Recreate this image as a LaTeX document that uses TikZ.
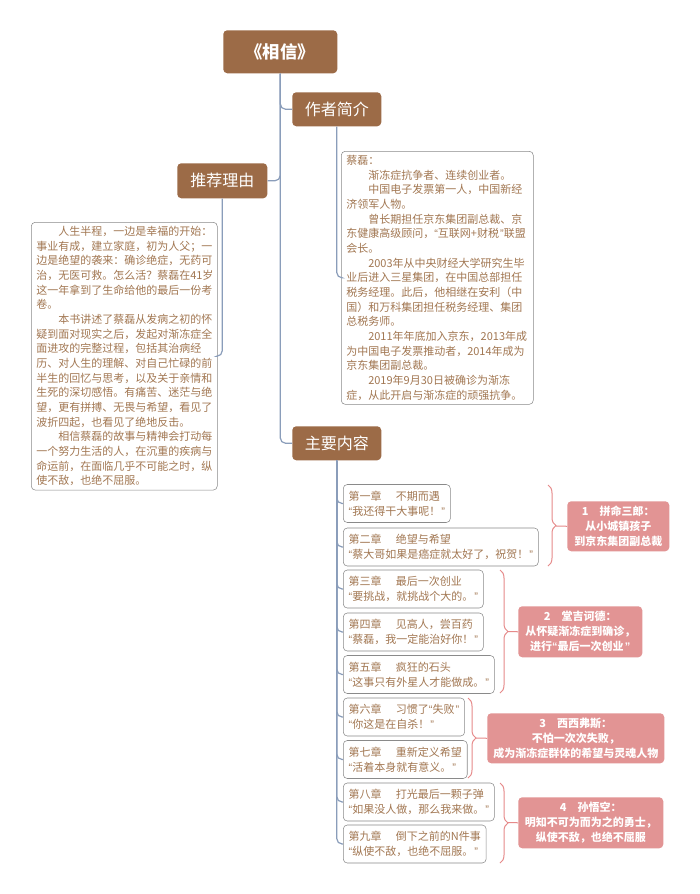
\documentclass[tikz,border=0pt]{standalone}
\usepackage{fontspec}
\setmainfont{Noto Sans CJK SC}
\newfontfamily\quofont{Liberation Sans}
\usetikzlibrary{decorations.pathreplacing}
\definecolor{topicbrown}{HTML}{9C6B47}
\definecolor{notebrown}{HTML}{A27752}
\definecolor{linkblue}{HTML}{8A9DBA}
\definecolor{notegray}{HTML}{8A8A8A}
\definecolor{sumpink}{HTML}{E29494}
\definecolor{bracepink}{HTML}{E68A8A}
\tikzset{
  topic/.style={fill=topicbrown, text=white, rounded corners=3pt, inner sep=0pt},
  note/.style={draw=notegray, rounded corners=3pt, text=notebrown, align=left,
    inner xsep=3.75pt, inner ysep=3pt, font=\fontsize{8.25}{11}\selectfont},
  chap/.style={note, anchor=west, inner xsep=4pt, inner ysep=2pt, minimum height=28.5pt,
    font=\fontsize{8.25}{11.25}\selectfont},
  summary/.style={fill=sumpink, text=white, rounded corners=3pt, inner sep=0pt,
    anchor=north west, align=center, font=\bfseries\fontsize{8.25}{11.25}\selectfont},
  link/.style={draw=linkblue, line width=0.9pt, rounded corners=4pt},
  bracket/.style={draw=bracepink, line width=0.75pt, decorate,
    decoration={brace, amplitude=6pt, aspect=0.5}},
  tick/.style={draw=bracepink, line width=0.75pt}
}
\newcommand{\ind}{\hspace*{2em}}
\newcommand{\gap}{\hspace{1.3em}}
\newcommand{\lquo}{{\quofont “}}
\newcommand{\rquo}{\hspace{0.1em}{\quofont ”}}

\begin{document}
\begin{tikzpicture}[x=0.75pt, y=-0.75pt]
  \useasboundingbox[fill=white] (0,0) rectangle (700,894);

  % topics
  \node[topic, anchor=north west, minimum width=85.5pt, minimum height=32.25pt,
    font=\bfseries\fontsize{13}{15}\selectfont] (title) at (223,30) {《相信》};
  \node[topic, anchor=north west, minimum width=66.75pt, minimum height=25.5pt,
    font=\fontsize{12}{14}\selectfont] (author) at (292,92) {作者简介};
  \node[topic, anchor=north west, minimum width=67.5pt, minimum height=26.25pt,
    font=\fontsize{12}{14}\selectfont] (reason) at (177,163) {推荐理由};
  \node[topic, anchor=north west, minimum width=66.75pt, minimum height=25.5pt,
    font=\fontsize{12}{14}\selectfont] (content) at (292,426) {主要内容};

  % notes
  \node[note, anchor=north west, text width=132pt] (reasontext) at (31,222) {%
    \ind 人生半程，一边是幸福的开始：\\
    事业有成，建立家庭，初为人父；一\\
    边是绝望的袭来：确诊绝症，无药可\\
    治，无医可救。怎么活？蔡磊在41岁\\
    这一年拿到了生命给他的最后一份考\\
    卷。\\
    \ind 本书讲述了蔡磊从发病之初的怀\\
    疑到面对现实之后，发起对渐冻症全\\
    面进攻的完整过程，包括其治病经\\
    历、对人生的理解、对自己忙碌的前\\
    半生的回忆与思考，以及关于亲情和\\
    生死的深切感悟。有痛苦、迷茫与绝\\
    望，更有拼搏、无畏与希望，看见了\\
    波折四起，也看见了绝地反击。\\
    \ind 相信蔡磊的故事与精神会打动每\\
    一个努力生活的人，在沉重的疾病与\\
    命运前，在面临几乎不可能之时，纵\\
    使不敌，也绝不屈服。};
  \node[note, anchor=north west, text width=136.5pt] (authortext) at (341,151) {%
    蔡磊：\\
    \ind 渐冻症抗争者、连续创业者。\\
    \ind 中国电子发票第一人，中国新经\\
    济领军人物。\\
    \ind 曾长期担任京东集团副总裁、京\\
    东健康高级顾问，\lquo 互联网+财税\rquo 联盟\\
    会长。\\
    \ind 2003年从中央财经大学研究生毕\\
    业后进入三星集团，在中国总部担任\\
    税务经理。此后，他相继在安利（中\\
    国）和万科集团担任税务经理、集团\\
    总税务师。\\
    \ind 2011年年底加入京东，2013年成\\
    为中国电子发票推动者，2014年成为\\
    京东集团副总裁。\\
    \ind 2019年9月30日被确诊为渐冻\\
    症，从此开启与渐冻症的顽强抗争。};

  % chapters
  \node[chap] (ch1) at (343,503.5) {第一章\gap 不期而遇\\\lquo 我还得干大事呢！\rquo};
  \node[chap] (ch2) at (343,547) {第二章\gap 绝望与希望\\\lquo 蔡大哥如果是癌症就太好了，祝贺！\rquo};
  \node[chap] (ch3) at (343,589) {第三章\gap 最后一次创业\\\lquo 要挑战，就挑战个大的。\rquo};
  \node[chap] (ch4) at (343,632) {第四章\gap 见高人，尝百药\\\lquo 蔡磊，我一定能治好你！\rquo};
  \node[chap] (ch5) at (343,674.5) {第五章\gap 疯狂的石头\\\lquo 这事只有外星人才能做成。\rquo};
  \node[chap] (ch6) at (343,717) {第六章\gap 习惯了\lquo 失败\rquo\\\lquo 你这是在自杀！\rquo};
  \node[chap] (ch7) at (343,759.5) {第七章\gap 重新定义希望\\\lquo 活着本身就有意义。\rquo};
  \node[chap] (ch8) at (343,802) {第八章\gap 打光最后一颗子弹\\\lquo 如果没人做，那么我来做。\rquo};
  \node[chap] (ch9) at (343,844) {第九章\gap 倒下之前的N件事\\\lquo 纵使不敌，也绝不屈服。\rquo};

  % summaries
  \node[summary, minimum width=76.5pt, minimum height=37.5pt] (sum1) at (567,501)
    {1\hspace{1em}拼命三郎：\\从小城镇孩子\\到京东集团副总裁};
  \node[summary, minimum width=93pt, minimum height=38.25pt] (sum2) at (518,606)
    {2\hspace{1em}堂吉诃德：\\从怀疑渐冻症到确诊，\\进行\lquo 最后一次创业\rquo};
  \node[summary, minimum width=132.75pt, minimum height=37.5pt] (sum3) at (487,713)
    {3\hspace{1em}西西弗斯：\\不怕一次次失败，\\成为渐冻症群体的希望与灵魂人物};
  \node[summary, minimum width=108.75pt, minimum height=38.25pt] (sum4) at (518,797)
    {4\hspace{1em}孙悟空：\\明知不可为而为之的勇士，\\纵使不敌，也绝不屈服};

  % connectors
  \draw[link] (title.south) |- (author.west);
  \draw[link] (title.south) |- (reason.east);
  \draw[link] (title.south) |- (content.west);
  \draw[link] (author.south) |- (authortext.west);
  \draw[link] (reason.south) |- (reasontext.east);
  \foreach \c in {ch1,ch2,ch3,ch4,ch5,ch6,ch7,ch8,ch9}
    \draw[link] (content.south) |- (\c.west);

  % brackets
  \coordinate (b1top) at (548,485);  \coordinate (b1bot) at (548,566);
  \coordinate (b2top) at (500,570);  \coordinate (b2bot) at (500,693);
  \coordinate (b3top) at (468,698);  \coordinate (b3bot) at (468,778);
  \coordinate (b4top) at (500,783);  \coordinate (b4bot) at (500,863);
  \draw[bracket] (b1top) -- (b1bot);
  \draw[bracket] (b2top) -- (b2bot);
  \draw[bracket] (b3top) -- (b3bot);
  \draw[bracket] (b4top) -- (b4bot);
  \coordinate (t1) at (556,526);
  \coordinate (t2) at (508,631.5);
  \coordinate (t3) at (476,738);
  \coordinate (t4) at (508,822.5);
  \draw[tick] (t1) -- (sum1.west);
  \draw[tick] (t2) -- (sum2.west);
  \draw[tick] (t3) -- (sum3.west);
  \draw[tick] (t4) -- (sum4.west);
\end{tikzpicture}
\end{document}
